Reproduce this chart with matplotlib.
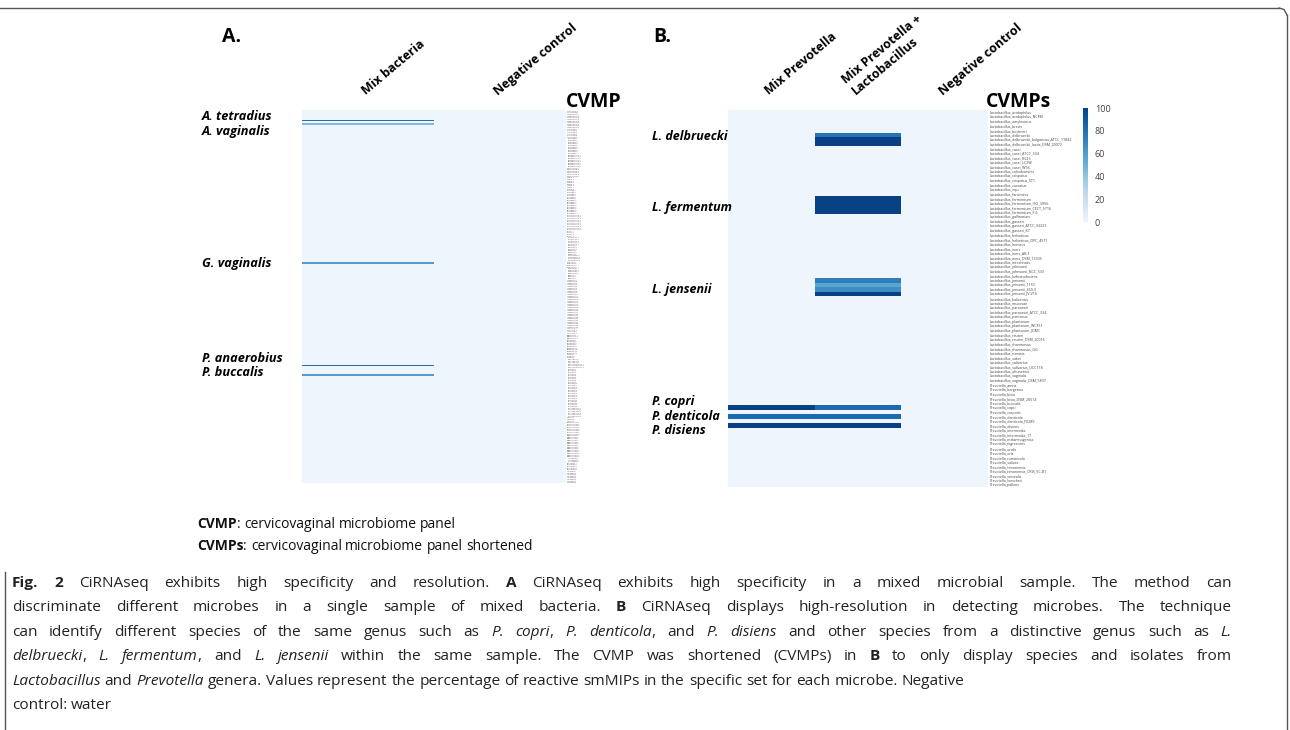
import numpy as np
import matplotlib.pyplot as plt
from matplotlib.colors import LinearSegmentedColormap
from matplotlib.lines import Line2D

# ---------------- data ----------------
# panel A: full cervicovaginal microbiome panel (CVMP)
a_columns = ['Mix bacteria', 'Negative control']
a_genera = ['Actinomyces', 'Anaerococcus', 'Atopobium', 'Bacteroides', 'Bifidobacterium',
            'Campylobacter', 'Candida', 'Chlamydia', 'Clostridium', 'Corynebacterium',
            'Dialister', 'Enterococcus', 'Escherichia', 'Finegoldia', 'Fusobacterium',
            'Gardnerella', 'Haemophilus', 'Klebsiella', 'Lactobacillus', 'Leptotrichia',
            'Megasphaera', 'Mobiluncus', 'Mycoplasma', 'Neisseria', 'Peptoniphilus',
            'Peptostreptococcus', 'Prevotella', 'Porphyromonas', 'Sneathia',
            'Staphylococcus', 'Streptococcus', 'Trichomonas', 'Ureaplasma', 'Veillonella']
a_genus_sets = [2, 9, 6, 10, 8, 6, 8, 5, 10, 10, 4, 5, 3, 3, 4, 4, 4, 3, 30, 4,
                3, 4, 5, 3, 3, 3, 24, 6, 3, 8, 14, 3, 5, 8]
a_hit_rows = [6, 8, 94, 157, 163]
a_hit_mix = [80, 45, 60, 80, 60]
a_hit_names = ['A. tetradius', 'A. vaginalis', 'G. vaginalis', 'P. anaerobius', 'P. buccalis']

# panel B: shortened panel (CVMPs)
b_columns = ['Mix Prevotella', 'Mix Prevotella +\nLactobacillus', 'Negative control']
lacto_species = ['acidophilus', 'acidophilus_NCFM', 'amylovorus', 'brevis', 'buchneri',
                 'delbrueckii', 'delbrueckii_bulgaricus_ATCC_11842', 'delbrueckii_lactis_DSM_20072',
                 'casei', 'casei_ATCC_334', 'casei_BL23', 'casei_LC2W', 'casei_W56',
                 'coleohominis', 'crispatus', 'crispatus_ST1', 'curvatus', 'equi',
                 'farciminis', 'fermentum', 'fermentum_IFO_3956', 'fermentum_CECT_5716',
                 'fermentum_F-6', 'gallinarum', 'gasseri', 'gasseri_ATCC_33323', 'gasseri_K7',
                 'helveticus', 'helveticus_DPC_4571', 'hominis', 'iners', 'iners_AB-1',
                 'iners_DSM_13335', 'intestinalis', 'johnsonii', 'johnsonii_NCC_533',
                 'kefiranofaciens', 'jensenii', 'jensenii_1153', 'jensenii_269-3',
                 'jensenii_JV-V16', 'kalixensis', 'mucosae', 'paracasei', 'paracasei_ATCC_334',
                 'pentosus', 'plantarum', 'plantarum_WCFS1', 'plantarum_JDM1', 'reuteri',
                 'reuteri_DSM_20016', 'rhamnosus', 'rhamnosus_GG', 'ruminis', 'sakei',
                 'salivarius', 'salivarius_UCC118', 'ultunensis', 'vaginalis',
                 'vaginalis_DSM_5837']
prevo_species = ['amnii', 'bergensis', 'bivia', 'bivia_DSM_20514', 'buccalis', 'copri',
                 'corporis', 'denticola', 'denticola_F0289', 'disiens', 'intermedia',
                 'intermedia_17', 'melaninogenica', 'nigrescens', 'oralis', 'oris',
                 'ruminicola', 'salivae', 'timonensis', 'timonensis_CRIS_5C-B1',
                 'veroralis', 'loescheii', 'pallens']
b_hit_rows = [5, 6, 7, 19, 20, 21, 22, 37, 38, 39, 40, 65, 67, 69]
b_hit_mix_prev = [0, 0, 0, 0, 0, 0, 0, 0, 0, 0, 0, 100, 82, 100]
b_hit_mix_prev_lacto = [78, 100, 100, 100, 100, 100, 100, 74, 57, 67, 100, 82, 82, 100]
b_hit_names = ['L. delbruecki', 'L. fermentum', 'L. jensenii', 'P. copri', 'P. denticola', 'P. disiens']

caption_lines = [
    [('Fig. 2', 'b'), (' CiRNAseq exhibits high specificity and resolution. ', ''), ('A', 'b'),
     (' CiRNAseq exhibits high specificity in a mixed microbial sample. The method can', '')],
    [('discriminate different microbes in a single sample of mixed bacteria. ', ''), ('B', 'b'),
     (' CiRNAseq displays high-resolution in detecting microbes. The technique', '')],
    [('can identify different species of the same genus such as ', ''), ('P. copri', 'i'), (', ', ''),
     ('P. denticola', 'i'), (', and ', ''), ('P. disiens', 'i'),
     (' and other species from a distinctive genus such as ', ''), ('L.', 'i')],
    [('delbruecki', 'i'), (', ', ''), ('L. fermentum', 'i'), (', and ', ''), ('L. jensenii', 'i'),
     (' within the same sample. The CVMP was shortened (CVMPs) in ', ''), ('B', 'b'),
     (' to only display species and isolates from', '')],
    [('Lactobacillus', 'i'), (' and ', ''), ('Prevotella', 'i'),
     (' genera. Values represent the percentage of reactive smMIPs in the specific set for each microbe. Negative', '')],
    [('control: water', '')],
]
caption_justified = [True, True, True, True, False, False]

# ---------------- build matrices ----------------
a_labels = []
for g, n in zip(a_genera, a_genus_sets):
    a_labels += [g + '_' + str(k + 1) for k in range(n)]
a_mat = np.zeros((len(a_labels), len(a_columns)))
a_mat[a_hit_rows, 0] = a_hit_mix

b_labels = ['Lactobacillus_' + s for s in lacto_species] + ['Prevotella_' + s for s in prevo_species]
b_mat = np.zeros((len(b_labels), len(b_columns)))
b_mat[b_hit_rows, 0] = b_hit_mix_prev
b_mat[b_hit_rows, 1] = b_hit_mix_prev_lacto

# ---------------- drawing ----------------
W, H = 1290, 730
plt.rcParams['font.family'] = ['Open Sans', 'DejaVu Sans']

cmap = LinearSegmentedColormap.from_list('blues_t', plt.cm.Blues(np.linspace(0.05, 0.93, 256)))

fig = plt.figure(figsize=(W / 100, H / 100), dpi=100)


def px_axes(x0, y0, x1, y1):
    return fig.add_axes([x0 / W, 1 - y1 / H, (x1 - x0) / W, (y1 - y0) / H])


def heat(ax, mat, cols, rows, row_fs):
    m = ax.pcolormesh(mat, cmap=cmap, vmin=0, vmax=100, antialiased=False)
    ax.set_xlim(0, mat.shape[1])
    ax.set_ylim(mat.shape[0], 0)
    ax.xaxis.tick_top()
    ax.set_xticks(np.arange(len(cols)) + 0.5)
    ax.set_xticklabels(cols, rotation=40, ha='left', va='bottom', rotation_mode='anchor',
                       fontsize=9, fontweight='bold')
    ax.yaxis.tick_right()
    ax.set_yticks(np.arange(len(rows)) + 0.5)
    ax.set_yticklabels(rows, fontsize=row_fs, color='#444444')
    ax.tick_params(length=0, pad=1)
    ax.tick_params(axis='x', pad=9)
    for s in ax.spines.values():
        s.set_visible(False)
    return m


axA = px_axes(302, 110, 566, 483)
heat(axA, a_mat, a_columns, a_labels, 1.2)

axB = px_axes(728, 110, 988, 487)
mB = heat(axB, b_mat, b_columns, b_labels, 2.6)

cax = px_axes(1083, 108, 1088, 222)
cb = fig.colorbar(mB, cax=cax, ticks=[0, 20, 40, 60, 80, 100])
cb.outline.set_visible(False)
cax.tick_params(length=0, labelsize=6.5, colors='#444444', pad=5)


def ftext(x, y, s, **kw):
    return fig.text(x / W, 1 - y / H, s, **kw)


# panel letters and titles
ftext(222, 42, 'A.', fontsize=14, fontweight='bold', va='baseline')
ftext(653, 42, 'B.', fontsize=14, fontweight='bold', va='baseline')
ftext(566, 107, 'CVMP', fontsize=14, fontweight='bold', va='baseline')
ftext(986, 107, 'CVMPs', fontsize=14, fontweight='bold', va='baseline')

# species call-outs
for name, y in zip(a_hit_names, [117, 131, 263, 358, 373]):
    ftext(202, y, name, fontsize=9.2, fontweight='bold', fontstyle='italic', va='center')
for name, y in zip(b_hit_names, [136, 208, 290, 402, 416, 430]):
    ftext(652, y, name, fontsize=9, fontweight='bold', fontstyle='italic', va='center')

renderer = fig.canvas.get_renderer()


def seg_width(s, **kw):
    t1 = fig.text(0, 0, '|' + s + '|', **kw)
    t2 = fig.text(0, 0, '||', **kw)
    w = t1.get_window_extent(renderer).width - t2.get_window_extent(renderer).width
    t1.remove()
    t2.remove()
    return w


def style_kw(st, size, color):
    return dict(fontsize=size, color=color,
                fontweight='bold' if 'b' in st else 'normal',
                fontstyle='italic' if 'i' in st else 'normal')


def rich(x, y, parts, size, color, right=None):
    # split into words and spaces so a line can be justified
    tokens = []
    for s, st in parts:
        pieces = s.split(' ')
        for j, p in enumerate(pieces):
            if j > 0:
                tokens.append((' ', st))
            if p:
                tokens.append((p, st))
    widths = [seg_width(t, **style_kw(st, size, color)) for t, st in tokens]
    n_sp = sum(1 for t, _ in tokens if t == ' ')
    extra = 0
    if right is not None and n_sp:
        extra = (right - x - sum(widths)) / n_sp
    for (t, st), w in zip(tokens, widths):
        if t == ' ':
            x += w + extra
        else:
            ftext(x, y, t, va='baseline', **style_kw(st, size, color))
            x += w


rich(197, 528, [('CVMP', 'b'), (': cervicovaginal microbiome panel', '')], 10, '#111111')
rich(197, 550, [('CVMPs', 'b'), (': cervicovaginal microbiome panel shortened', '')], 10, '#111111')

for i, line in enumerate(caption_lines):
    rich(12, 587 + i * 24.4, line, 11.1, '#222222',
         right=1232 if caption_justified[i] else None)


# frame around figure
def px_line(xs, ys):
    fig.add_artist(Line2D([x / W for x in xs], [1 - y / H for y in ys],
                          color='#555555', lw=1.0, transform=fig.transFigure))


px_line([0, 1279], [8, 8])
px_line([1279, 1284, 1287], [8, 9.5, 15])
px_line([1287, 1287], [15, 730])
px_line([5, 5], [572, 730])

fig.savefig('out.png', dpi=100)
